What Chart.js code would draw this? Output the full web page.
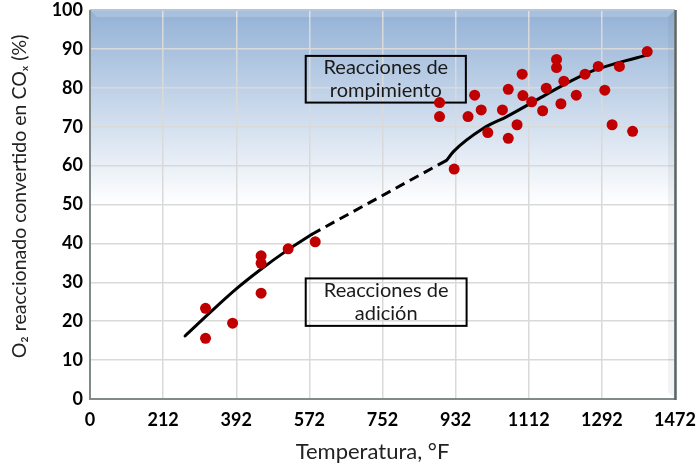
<!DOCTYPE html>
<html>
<head>
<meta charset="utf-8">
<script src="https://cdn.jsdelivr.net/npm/chart.js@4.4.1/dist/chart.umd.min.js"></script>
<style>
  html, body { margin: 0; padding: 0; background: #ffffff; }
  #wrap { width: 700px; height: 467px; }
</style>
</head>
<body>
<div id="wrap"><canvas id="chart" width="700" height="467"></canvas></div>
<script>
// Temperature axis runs evenly in °C (0–800) and is labelled in °F
const tempTickLabelsF = ['0', '212', '392', '572', '752', '932', '1112', '1292', '1472'];

// Measured samples: temperature (°C position on the axis) and O2 converted to COx (%)
const sampleTempC = [158, 158, 195, 234, 234, 234, 271, 308,
  478, 478, 498, 517, 526, 535, 544, 564, 572, 572, 584, 591, 592, 604,
  619, 624, 638, 638, 644, 648, 665, 677, 695, 704, 714, 724, 742, 762];
const sampleConv = [23.3, 15.6, 19.5, 36.8, 34.9, 27.2, 38.6, 40.4,
  76.2, 72.6, 59.1, 72.6, 78.1, 74.3, 68.5, 74.3, 79.6, 67.0, 70.5, 83.5, 78.0, 76.4,
  74.1, 79.9, 87.3, 85.2, 75.9, 81.7, 78.1, 83.5, 85.5, 79.4, 70.5, 85.5, 68.8, 89.3];

// Trend: addition-reaction branch, extrapolated gap, cracking branch
const lowCurveTempC = [130, 164, 200, 232, 271, 303];
const lowCurveConv = [16.2, 22.2, 28.3, 33.1, 38.4, 42.3];
const gapTempC = [303, 488];
const gapConv = [42.3, 61.4];
const highCurveTempC = [488, 497, 538, 570, 611, 647, 684, 720, 762];
const highCurveConv = [61.4, 63.6, 69.6, 72.6, 76.9, 80.7, 84.1, 86.3, 88.4];

// Region captions and axis titles
const regionTopText = ['Reacciones de', 'rompimiento'];
const regionBottomText = ['Reacciones de', 'adición'];
const xTitle = 'Temperatura, °F';
const yTitle = 'O₂ reaccionado convertido en COₓ (%)';

const FONT = 'Lato, "Noto Sans", "DejaVu Sans", sans-serif';

function toPoints(xs, ys) {
  return xs.map((x, i) => ({ x: x, y: ys[i] }));
}

// Blue-to-white fill of the plotting area
const plotBackground = {
  id: 'plotBackground',
  beforeDraw(chart) {
    const { ctx, chartArea: a } = chart;
    const g = ctx.createLinearGradient(0, a.top, 0, a.bottom);
    g.addColorStop(0, '#93b1d6');
    g.addColorStop(0.5, '#ffffff');
    g.addColorStop(1, '#ffffff');
    ctx.save();
    ctx.fillStyle = g;
    ctx.fillRect(a.left, a.top, a.right - a.left, a.bottom - a.top);
    ctx.restore();
  }
};

// Bevelled frame around the plot and the two captioned region boxes
const frameAndBoxes = {
  id: 'frameAndBoxes',
  beforeDatasetsDraw(chart) {
    const { ctx, chartArea: a, scales } = chart;
    const x = scales.x, y = scales.y;
    ctx.save();
    const bev = 7;
    ctx.fillStyle = 'rgba(255,255,255,0.18)';
    ctx.beginPath();
    ctx.moveTo(a.left, a.top);
    ctx.lineTo(a.right, a.top);
    ctx.lineTo(a.right - bev, a.top + bev);
    ctx.lineTo(a.left + bev, a.top + bev);
    ctx.closePath();
    ctx.fill();
    ctx.fillStyle = 'rgba(60,80,100,0.07)';
    ctx.beginPath();
    ctx.moveTo(a.right, a.top);
    ctx.lineTo(a.right, a.bottom);
    ctx.lineTo(a.right - bev, a.bottom - bev);
    ctx.lineTo(a.right - bev, a.top + bev);
    ctx.closePath();
    ctx.fill();
    ctx.lineWidth = 2;
    ctx.strokeStyle = '#b4c6dc';
    ctx.beginPath(); ctx.moveTo(a.left, a.top); ctx.lineTo(a.right, a.top); ctx.stroke();
    ctx.strokeStyle = '#7f8a8a';
    ctx.beginPath(); ctx.moveTo(a.left, a.top); ctx.lineTo(a.left, a.bottom); ctx.lineTo(a.right, a.bottom); ctx.stroke();
    ctx.strokeStyle = '#5b6565';
    ctx.lineWidth = 2.5;
    ctx.beginPath(); ctx.moveTo(a.right + 0.5, a.top); ctx.lineTo(a.right + 0.5, a.bottom + 1); ctx.stroke();

    const boxes = [
      { lines: regionTopText, x0: 295, x1: 514, y0: 88.2, y1: 76.2 },
      { lines: regionBottomText, x0: 295, x1: 515, y0: 31.0, y1: 18.8 }
    ];
    ctx.font = '20px ' + FONT;
    ctx.textAlign = 'center';
    ctx.textBaseline = 'middle';
    boxes.forEach(b => {
      const l = x.getPixelForValue(b.x0), r = x.getPixelForValue(b.x1);
      const t = y.getPixelForValue(b.y0), btm = y.getPixelForValue(b.y1);
      ctx.lineWidth = 2;
      ctx.strokeStyle = '#000000';
      ctx.strokeRect(l, t, r - l, btm - t);
      ctx.fillStyle = '#1a1a1a';
      const cx = (l + r) / 2, cy = (t + btm) / 2;
      const lh = 23;
      b.lines.forEach((s, i) => {
        ctx.fillText(s, cx, cy + (i - (b.lines.length - 1) / 2) * lh);
      });
    });
    ctx.restore();
  }
};

// Axis titles, placed in the space reserved by each scale
const axisTitles = {
  id: 'axisTitles',
  afterDraw(chart) {
    const { ctx, chartArea: a } = chart;
    ctx.save();
    ctx.fillStyle = '#222222';
    ctx.textAlign = 'center';
    ctx.textBaseline = 'middle';
    ctx.font = '22px ' + FONT;
    ctx.fillText(xTitle, (a.left + a.right) / 2 - 10, chart.height - 15);
    ctx.translate(20, (a.top + a.bottom) / 2 - 8);
    ctx.rotate(-Math.PI / 2);
    ctx.font = '19.5px ' + FONT;
    ctx.fillText(yTitle, 0, 0);
    ctx.restore();
  }
};

const lineStyle = {
  type: 'line',
  borderColor: '#000000',
  borderWidth: 3,
  pointRadius: 0,
  showLine: true,
  fill: false,
  cubicInterpolationMode: 'monotone',
  borderCapStyle: 'round',
  order: 1
};

new Chart(document.getElementById('chart'), {
  type: 'scatter',
  data: {
    datasets: [
      {
        label: 'Muestras',
        data: toPoints(sampleTempC, sampleConv),
        backgroundColor: '#c00000',
        borderWidth: 0,
        pointRadius: 5.5,
        order: 0
      },
      Object.assign({ label: 'Adición', data: toPoints(lowCurveTempC, lowCurveConv) }, lineStyle),
      Object.assign({ label: 'Transición', data: toPoints(gapTempC, gapConv) }, lineStyle, { borderDash: [10, 6], borderCapStyle: 'butt' }),
      Object.assign({ label: 'Rompimiento', data: toPoints(highCurveTempC, highCurveConv) }, lineStyle)
    ]
  },
  options: {
    responsive: false,
    animation: false,
    devicePixelRatio: 1,
    layout: { padding: { top: 10, right: 25, bottom: 0, left: 0 } },
    plugins: { legend: { display: false }, tooltip: { enabled: false } },
    scales: {
      x: {
        type: 'linear',
        min: 0,
        max: 800,
        afterFit(s) { s.height = 68; s.paddingLeft = 0; s.paddingRight = 0; },
        border: { display: false },
        grid: { color: '#d9d9d9', lineWidth: 1.5, drawTicks: false },
        ticks: {
          stepSize: 100,
          autoSkip: false,
          maxRotation: 0,
          padding: 11,
          color: '#000000',
          font: { family: FONT, size: 18, weight: 'bold', lineHeight: 1.1 },
          callback: v => tempTickLabelsF[Math.round(v / 100)]
        },
        title: { display: false }
      },
      y: {
        type: 'linear',
        min: 0,
        max: 100,
        afterFit(s) { s.width = 90; s.paddingTop = 0; s.paddingBottom = 0; },
        border: { display: false },
        grid: { color: '#d9d9d9', lineWidth: 1.5, drawTicks: false },
        ticks: {
          stepSize: 10,
          padding: 7,
          color: '#000000',
          font: { family: FONT, size: 18, weight: 'bold', lineHeight: 1.1 }
        },
        title: { display: false }
      }
    }
  },
  plugins: [plotBackground, frameAndBoxes, axisTitles]
});
</script>
</body>
</html>
